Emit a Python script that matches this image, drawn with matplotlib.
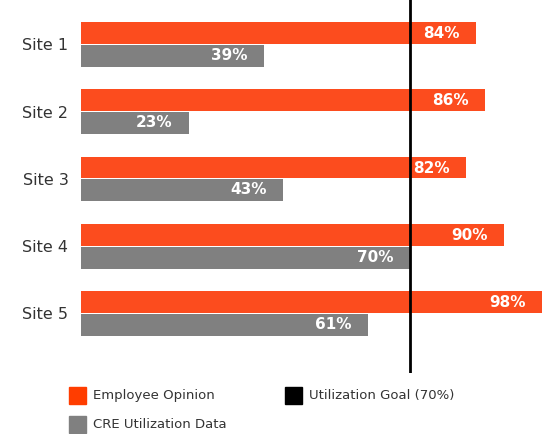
import numpy as np
import matplotlib.pyplot as plt
from matplotlib.patches import Rectangle

sites = ['Site 1', 'Site 2', 'Site 3', 'Site 4', 'Site 5']
opinion = [84, 86, 82, 90, 98]
utilization = [39, 23, 43, 70, 61]
goal = 70

orange = '#FC4C1E'
gray = '#808080'

fig = plt.figure(figsize=(5.45, 4.34), dpi=100)
ax = fig.add_axes([81 / 545, 1 - 373 / 434, 1 - 81 / 545, 373 / 434])

y = np.arange(len(sites))
h = 0.325
ax.barh(y - h / 2 - 0.007, opinion, height=h, color=orange)
ax.barh(y + h / 2 + 0.007, utilization, height=h, color=gray)

# labels inside bar ends
for i in range(len(sites)):
    ax.text(opinion[i] - 3.5, y[i] - h / 2, f'{opinion[i]}%', ha='right', va='center',
            color='white', fontsize=11, fontweight='bold')
    ax.text(utilization[i] - 3.5, y[i] + h / 2, f'{utilization[i]}%', ha='right', va='center',
            color='white', fontsize=11, fontweight='bold')

ax.axvline(goal, color='black', linewidth=2)

ax.set_xlim(0, 98.7)
ax.set_ylim(4 + 0.885, -0.66)
ax.set_yticks(y)
ax.set_yticklabels(sites, fontsize=11.5, color='#333333')
ax.tick_params(axis='y', length=0, pad=9)
ax.set_xticks([])
for s in ax.spines.values():
    s.set_visible(False)

# legend
def legend_item(x, ytop, color, label):
    fig.patches.append(Rectangle((x / 545, 1 - (ytop + 17) / 434), 17 / 545, 17 / 434,
                                 transform=fig.transFigure, color=color))
    fig.text((x + 24) / 545, 1 - (ytop + 8.5) / 434, label, fontsize=9.5,
             color='#333333', va='center')

legend_item(69, 387, '#FF3D00', 'Employee Opinion')
legend_item(285, 387, 'black', 'Utilization Goal (70%)')
legend_item(69, 416, gray, 'CRE Utilization Data')

plt.savefig('out.png', dpi=100)
